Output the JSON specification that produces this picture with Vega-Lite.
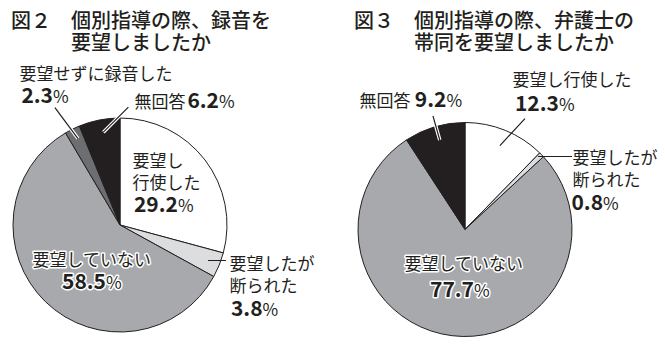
{
  "$schema": "https://vega.github.io/schema/vega-lite/v6.json",
  "background": "#ffffff",
  "padding": {"left": 11, "top": 11, "right": 0, "bottom": 0},
  "bounds": "flush",
  "spacing": 131,
  "datasets": {
    "fig2": [
      {"cat": "要望し行使した", "label": "要望し\n行使した", "value": 29.2, "ord": 1},
      {"cat": "要望したが断られた", "label": "要望したが\n断られた", "value": 3.8, "ord": 2},
      {"cat": "要望していない", "label": "要望していない", "value": 58.5, "ord": 3},
      {"cat": "要望せずに録音した", "label": "要望せずに録音した", "value": 2.3, "ord": 4},
      {"cat": "無回答", "label": "無回答", "value": 6.2, "ord": 5}
    ],
    "fig3": [
      {"cat": "要望し行使した", "label": "要望し行使した", "value": 12.3, "ord": 1},
      {"cat": "要望したが断られた", "label": "要望したが\n断られた", "value": 0.8, "ord": 2},
      {"cat": "要望していない", "label": "要望していない", "value": 77.7, "ord": 3},
      {"cat": "無回答", "label": "無回答", "value": 9.2, "ord": 4}
    ]
  },
  "hconcat": [
    {
      "width": 214,
      "height": 214,
      "data": {"name": "fig2"},
      "transform": [{"stack": "value", "groupby": [], "sort": [{"field": "ord", "order": "ascending"}], "as": ["v0", "v1"]}],
      "title": {"text": ["図２　個別指導の際、録音を", "\u200b　　　要望しましたか"], "anchor": "start", "frame": "group", "font": "Noto Sans CJK JP", "fontSize": 20, "fontWeight": 500, "lineHeight": 22, "color": "#231f20", "offset": 11, "dx": -2},
      "layer": [
        {"mark": {"type": "arc", "radius": 107, "stroke": "#231f20", "strokeWidth": 1},
         "encoding": {"theta": {"field": "v0", "type": "quantitative", "scale": {"domain": [0, 100]}}, "theta2": {"field": "v1"},
           "color": {"field": "cat", "type": "nominal", "legend": null, "scale": {"domain": ["要望し行使した", "要望したが断られた", "要望していない", "要望せずに録音した", "無回答"], "range": ["#ffffff", "#dcddde", "#a7a9ac", "#6d6e71", "#231f20"]}}}},
        {"transform": [{"filter": "datum.cat==='要望せずに録音した'"}],
         "mark": {"type": "arc", "filled": false, "stroke": "#ffffff", "strokeWidth": 3.5, "radius": 133.1, "radius2": 94.5, "padAngle": 3.14, "thetaOffset": -0.177, "theta2Offset": -0.177, "xOffset": 14.3, "yOffset": -10.6},
         "encoding": {"theta": {"field": "v0", "type": "quantitative", "scale": {"domain": [0, 100]}}, "theta2": {"field": "v1"}}},
        {"transform": [{"filter": "datum.cat==='要望せずに録音した'"}],
         "mark": {"type": "arc", "filled": false, "stroke": "#231f20", "strokeWidth": 1.2, "radius": 133.1, "radius2": 94.5, "padAngle": 3.14, "thetaOffset": -0.177, "theta2Offset": -0.177, "xOffset": 14.3, "yOffset": -10.6},
         "encoding": {"theta": {"field": "v0", "type": "quantitative", "scale": {"domain": [0, 100]}}, "theta2": {"field": "v1"}}},
        {"transform": [{"filter": "datum.cat==='無回答'"}],
         "mark": {"type": "arc", "filled": false, "stroke": "#ffffff", "strokeWidth": 3.5, "radius": 89.2, "radius2": 53.8, "padAngle": 3.14, "thetaOffset": 0.9802, "theta2Offset": 0.9802, "xOffset": -54.7, "yOffset": -54.8},
         "encoding": {"theta": {"field": "v0", "type": "quantitative", "scale": {"domain": [0, 100]}}, "theta2": {"field": "v1"}}},
        {"transform": [{"filter": "datum.cat==='無回答'"}],
         "mark": {"type": "arc", "filled": false, "stroke": "#231f20", "strokeWidth": 1.2, "radius": 89.2, "radius2": 53.8, "padAngle": 3.14, "thetaOffset": 0.9802, "theta2Offset": 0.9802, "xOffset": -54.7, "yOffset": -54.8},
         "encoding": {"theta": {"field": "v0", "type": "quantitative", "scale": {"domain": [0, 100]}}, "theta2": {"field": "v1"}}},
        {"transform": [{"filter": "datum.cat==='要望したが断られた'"}],
         "mark": {"type": "arc", "filled": false, "stroke": "#231f20", "strokeWidth": 1.2, "radius": 106, "radius2": 88, "padAngle": 3.14, "thetaOffset": -0.3833, "theta2Offset": -0.3833, "xOffset": 0, "yOffset": 35.5},
         "encoding": {"theta": {"field": "v0", "type": "quantitative", "scale": {"domain": [0, 100]}}, "theta2": {"field": "v1"}}},

        {"mark": {"type": "text", "radius": 55, "dx": -31.2, "dy": -24.1},
         "encoding": {"theta": {"field": "value", "type": "quantitative", "stack": true, "scale": {"domain": [0, 100]}}, "order": {"field": "ord", "type": "quantitative"},
           "text": {"condition": {"test": "datum.cat==='要望し行使した'", "field": "label", "type": "nominal"}, "value": ""}}},
        {"mark": {"type": "text", "radius": 55, "dx": 14.3, "dy": 20.9, "fontSize": 21, "fontWeight": "bold", "align": "right"},
         "encoding": {"theta": {"field": "value", "type": "quantitative", "stack": true, "scale": {"domain": [0, 100]}}, "order": {"field": "ord", "type": "quantitative"},
           "text": {"condition": {"test": "datum.cat==='要望し行使した'", "field": "value", "type": "quantitative", "format": ".1f"}, "value": ""}}},
        {"mark": {"type": "text", "radius": 55, "dx": 14.3, "dy": 20.9},
         "encoding": {"theta": {"field": "value", "type": "quantitative", "stack": true, "scale": {"domain": [0, 100]}}, "order": {"field": "ord", "type": "quantitative"},
           "text": {"condition": {"test": "datum.cat==='要望し行使した'", "value": "%"}, "value": ""}}},

        {"mark": {"type": "text", "radius": 125, "dx": -6.4, "dy": -2.2},
         "encoding": {"theta": {"field": "value", "type": "quantitative", "stack": true, "scale": {"domain": [0, 100]}}, "order": {"field": "ord", "type": "quantitative"},
           "text": {"condition": {"test": "datum.cat==='要望したが断られた'", "field": "label", "type": "nominal"}, "value": ""}}},
        {"mark": {"type": "text", "radius": 125, "dx": 26.6, "dy": 43.8, "fontSize": 21, "fontWeight": "bold", "align": "right"},
         "encoding": {"theta": {"field": "value", "type": "quantitative", "stack": true, "scale": {"domain": [0, 100]}}, "order": {"field": "ord", "type": "quantitative"},
           "text": {"condition": {"test": "datum.cat==='要望したが断られた'", "field": "value", "type": "quantitative", "format": ".1f"}, "value": ""}}},
        {"mark": {"type": "text", "radius": 125, "dx": 26.6, "dy": 43.8},
         "encoding": {"theta": {"field": "value", "type": "quantitative", "stack": true, "scale": {"domain": [0, 100]}}, "order": {"field": "ord", "type": "quantitative"},
           "text": {"condition": {"test": "datum.cat==='要望したが断られた'", "value": "%"}, "value": ""}}},

        {"mark": {"type": "text", "radius": 70, "dx": -38.8, "dy": -8.8, "stroke": "#ffffff", "strokeWidth": 3, "strokeJoin": "round"},
         "encoding": {"theta": {"field": "value", "type": "quantitative", "stack": true, "scale": {"domain": [0, 100]}}, "order": {"field": "ord", "type": "quantitative"},
           "text": {"condition": {"test": "datum.cat==='要望していない'", "field": "label", "type": "nominal"}, "value": ""}}},
        {"mark": {"type": "text", "radius": 70, "dx": 34.7, "dy": 14.2, "fontSize": 21, "fontWeight": "bold", "align": "right", "stroke": "#ffffff", "strokeWidth": 3, "strokeJoin": "round"},
         "encoding": {"theta": {"field": "value", "type": "quantitative", "stack": true, "scale": {"domain": [0, 100]}}, "order": {"field": "ord", "type": "quantitative"},
           "text": {"condition": {"test": "datum.cat==='要望していない'", "field": "value", "type": "quantitative", "format": ".1f"}, "value": ""}}},
        {"mark": {"type": "text", "radius": 70, "dx": 34.7, "dy": 14.2, "stroke": "#ffffff", "strokeWidth": 3, "strokeJoin": "round"},
         "encoding": {"theta": {"field": "value", "type": "quantitative", "stack": true, "scale": {"domain": [0, 100]}}, "order": {"field": "ord", "type": "quantitative"},
           "text": {"condition": {"test": "datum.cat==='要望していない'", "value": "%"}, "value": ""}}},
        {"mark": {"type": "text", "radius": 70, "dx": -38.8, "dy": -8.8},
         "encoding": {"theta": {"field": "value", "type": "quantitative", "stack": true, "scale": {"domain": [0, 100]}}, "order": {"field": "ord", "type": "quantitative"},
           "text": {"condition": {"test": "datum.cat==='要望していない'", "field": "label", "type": "nominal"}, "value": ""}}},
        {"mark": {"type": "text", "radius": 70, "dx": 34.7, "dy": 14.2, "fontSize": 21, "fontWeight": "bold", "align": "right"},
         "encoding": {"theta": {"field": "value", "type": "quantitative", "stack": true, "scale": {"domain": [0, 100]}}, "order": {"field": "ord", "type": "quantitative"},
           "text": {"condition": {"test": "datum.cat==='要望していない'", "field": "value", "type": "quantitative", "format": ".1f"}, "value": ""}}},
        {"mark": {"type": "text", "radius": 70, "dx": 34.7, "dy": 14.2},
         "encoding": {"theta": {"field": "value", "type": "quantitative", "stack": true, "scale": {"domain": [0, 100]}}, "order": {"field": "ord", "type": "quantitative"},
           "text": {"condition": {"test": "datum.cat==='要望していない'", "value": "%"}, "value": ""}}},

        {"mark": {"type": "text", "radius": 20, "dx": -91.6, "dy": -126.6},
         "encoding": {"theta": {"field": "value", "type": "quantitative", "stack": true, "scale": {"domain": [0, 100]}}, "order": {"field": "ord", "type": "quantitative"},
           "text": {"condition": {"test": "datum.cat==='要望せずに録音した'", "field": "label", "type": "nominal"}, "value": ""}}},
        {"mark": {"type": "text", "radius": 20, "dx": -58.1, "dy": -103.6, "fontSize": 21, "fontWeight": "bold", "align": "right"},
         "encoding": {"theta": {"field": "value", "type": "quantitative", "stack": true, "scale": {"domain": [0, 100]}}, "order": {"field": "ord", "type": "quantitative"},
           "text": {"condition": {"test": "datum.cat==='要望せずに録音した'", "field": "value", "type": "quantitative", "format": ".1f"}, "value": ""}}},
        {"mark": {"type": "text", "radius": 20, "dx": -58.1, "dy": -103.6},
         "encoding": {"theta": {"field": "value", "type": "quantitative", "stack": true, "scale": {"domain": [0, 100]}}, "order": {"field": "ord", "type": "quantitative"},
           "text": {"condition": {"test": "datum.cat==='要望せずに録音した'", "value": "%"}, "value": ""}}},

        {"mark": {"type": "text", "radius": 125, "dx": 38.7, "dy": 5.6},
         "encoding": {"theta": {"field": "value", "type": "quantitative", "stack": true, "scale": {"domain": [0, 100]}}, "order": {"field": "ord", "type": "quantitative"},
           "text": {"condition": {"test": "datum.cat==='無回答'", "field": "label", "type": "nominal"}, "value": ""}}},
        {"mark": {"type": "text", "radius": 125, "dx": 123.2, "dy": 6.1, "fontSize": 21, "fontWeight": "bold", "align": "right"},
         "encoding": {"theta": {"field": "value", "type": "quantitative", "stack": true, "scale": {"domain": [0, 100]}}, "order": {"field": "ord", "type": "quantitative"},
           "text": {"condition": {"test": "datum.cat==='無回答'", "field": "value", "type": "quantitative", "format": ".1f"}, "value": ""}}},
        {"mark": {"type": "text", "radius": 125, "dx": 123.2, "dy": 6.1},
         "encoding": {"theta": {"field": "value", "type": "quantitative", "stack": true, "scale": {"domain": [0, 100]}}, "order": {"field": "ord", "type": "quantitative"},
           "text": {"condition": {"test": "datum.cat==='無回答'", "value": "%"}, "value": ""}}}
      ]
    },
    {
      "width": 214,
      "height": 223,
      "data": {"name": "fig3"},
      "transform": [{"stack": "value", "groupby": [], "sort": [{"field": "ord", "order": "ascending"}], "as": ["v0", "v1"]}],
      "title": {"text": ["図３　個別指導の際、弁護士の", "\u200b　　　帯同を要望しましたか"], "anchor": "start", "frame": "group", "font": "Noto Sans CJK JP", "fontSize": 20, "fontWeight": 500, "lineHeight": 22, "color": "#231f20", "offset": 14, "dx": -4},
      "layer": [
        {"mark": {"type": "arc", "radius": 107, "stroke": "#231f20", "strokeWidth": 1},
         "encoding": {"theta": {"field": "v0", "type": "quantitative", "scale": {"domain": [0, 100]}}, "theta2": {"field": "v1"},
           "color": {"field": "cat", "type": "nominal", "legend": null, "scale": {"domain": ["要望し行使した", "要望したが断られた", "要望していない", "要望せずに録音した", "無回答"], "range": ["#ffffff", "#dcddde", "#a7a9ac", "#6d6e71", "#231f20"]}}}},
        {"transform": [{"filter": "datum.cat==='無回答'"}],
         "mark": {"type": "arc", "filled": false, "stroke": "#ffffff", "strokeWidth": 3.5, "radius": 118, "radius2": 93, "padAngle": 3.14, "thetaOffset": 0.014, "theta2Offset": 0.014},
         "encoding": {"theta": {"field": "v0", "type": "quantitative", "scale": {"domain": [0, 100]}}, "theta2": {"field": "v1"}}},
        {"transform": [{"filter": "datum.cat==='無回答'"}],
         "mark": {"type": "arc", "filled": false, "stroke": "#231f20", "strokeWidth": 1.2, "radius": 118, "radius2": 93, "padAngle": 3.14, "thetaOffset": 0.014, "theta2Offset": 0.014},
         "encoding": {"theta": {"field": "v0", "type": "quantitative", "scale": {"domain": [0, 100]}}, "theta2": {"field": "v1"}}},
        {"transform": [{"filter": "datum.cat==='要望し行使した'"}],
         "mark": {"type": "arc", "filled": false, "stroke": "#231f20", "strokeWidth": 1.2, "radius": 122.2, "radius2": 85.4, "padAngle": 3.14, "thetaOffset": 0.3606, "theta2Offset": 0.3606, "xOffset": -23.1, "yOffset": -21.3},
         "encoding": {"theta": {"field": "v0", "type": "quantitative", "scale": {"domain": [0, 100]}}, "theta2": {"field": "v1"}}},
        {"transform": [{"filter": "datum.cat==='要望したが断られた'"}],
         "mark": {"type": "arc", "filled": false, "stroke": "#231f20", "strokeWidth": 1.2, "radius": 107, "radius2": 73, "padAngle": 3.14, "thetaOffset": 0.7728, "theta2Offset": 0.7728, "xOffset": 0, "yOffset": -73},
         "encoding": {"theta": {"field": "v0", "type": "quantitative", "scale": {"domain": [0, 100]}}, "theta2": {"field": "v1"}}},

        {"mark": {"type": "text", "radius": 140, "dx": -5.3, "dy": -13.4},
         "encoding": {"theta": {"field": "value", "type": "quantitative", "stack": true, "scale": {"domain": [0, 100]}}, "order": {"field": "ord", "type": "quantitative"},
           "text": {"condition": {"test": "datum.cat==='要望し行使した'", "field": "label", "type": "nominal"}, "value": ""}}},
        {"mark": {"type": "text", "radius": 140, "dx": 41.2, "dy": 11.6, "fontSize": 21, "fontWeight": "bold", "align": "right"},
         "encoding": {"theta": {"field": "value", "type": "quantitative", "stack": true, "scale": {"domain": [0, 100]}}, "order": {"field": "ord", "type": "quantitative"},
           "text": {"condition": {"test": "datum.cat==='要望し行使した'", "field": "value", "type": "quantitative", "format": ".1f"}, "value": ""}}},
        {"mark": {"type": "text", "radius": 140, "dx": 41.2, "dy": 11.6},
         "encoding": {"theta": {"field": "value", "type": "quantitative", "stack": true, "scale": {"domain": [0, 100]}}, "order": {"field": "ord", "type": "quantitative"},
           "text": {"condition": {"test": "datum.cat==='要望し行使した'", "value": "%"}, "value": ""}}},

        {"mark": {"type": "text", "radius": 140, "dx": 7.3, "dy": 32.7},
         "encoding": {"theta": {"field": "value", "type": "quantitative", "stack": true, "scale": {"domain": [0, 100]}}, "order": {"field": "ord", "type": "quantitative"},
           "text": {"condition": {"test": "datum.cat==='要望したが断られた'", "field": "label", "type": "nominal"}, "value": ""}}},
        {"mark": {"type": "text", "radius": 140, "dx": 37.8, "dy": 78.7, "fontSize": 21, "fontWeight": "bold", "align": "right"},
         "encoding": {"theta": {"field": "value", "type": "quantitative", "stack": true, "scale": {"domain": [0, 100]}}, "order": {"field": "ord", "type": "quantitative"},
           "text": {"condition": {"test": "datum.cat==='要望したが断られた'", "field": "value", "type": "quantitative", "format": ".1f"}, "value": ""}}},
        {"mark": {"type": "text", "radius": 140, "dx": 37.8, "dy": 78.7},
         "encoding": {"theta": {"field": "value", "type": "quantitative", "stack": true, "scale": {"domain": [0, 100]}}, "order": {"field": "ord", "type": "quantitative"},
           "text": {"condition": {"test": "datum.cat==='要望したが断られた'", "value": "%"}, "value": ""}}},

        {"mark": {"type": "text", "radius": 50, "dx": -54.4, "dy": -9.6, "stroke": "#ffffff", "strokeWidth": 3, "strokeJoin": "round"},
         "encoding": {"theta": {"field": "value", "type": "quantitative", "stack": true, "scale": {"domain": [0, 100]}}, "order": {"field": "ord", "type": "quantitative"},
           "text": {"condition": {"test": "datum.cat==='要望していない'", "field": "label", "type": "nominal"}, "value": ""}}},
        {"mark": {"type": "text", "radius": 50, "dx": 15.1, "dy": 17.4, "fontSize": 21, "fontWeight": "bold", "align": "right", "stroke": "#ffffff", "strokeWidth": 3, "strokeJoin": "round"},
         "encoding": {"theta": {"field": "value", "type": "quantitative", "stack": true, "scale": {"domain": [0, 100]}}, "order": {"field": "ord", "type": "quantitative"},
           "text": {"condition": {"test": "datum.cat==='要望していない'", "field": "value", "type": "quantitative", "format": ".1f"}, "value": ""}}},
        {"mark": {"type": "text", "radius": 50, "dx": 15.1, "dy": 17.4, "stroke": "#ffffff", "strokeWidth": 3, "strokeJoin": "round"},
         "encoding": {"theta": {"field": "value", "type": "quantitative", "stack": true, "scale": {"domain": [0, 100]}}, "order": {"field": "ord", "type": "quantitative"},
           "text": {"condition": {"test": "datum.cat==='要望していない'", "value": "%"}, "value": ""}}},
        {"mark": {"type": "text", "radius": 50, "dx": -54.4, "dy": -9.6},
         "encoding": {"theta": {"field": "value", "type": "quantitative", "stack": true, "scale": {"domain": [0, 100]}}, "order": {"field": "ord", "type": "quantitative"},
           "text": {"condition": {"test": "datum.cat==='要望していない'", "field": "label", "type": "nominal"}, "value": ""}}},
        {"mark": {"type": "text", "radius": 50, "dx": 15.1, "dy": 17.4, "fontSize": 21, "fontWeight": "bold", "align": "right"},
         "encoding": {"theta": {"field": "value", "type": "quantitative", "stack": true, "scale": {"domain": [0, 100]}}, "order": {"field": "ord", "type": "quantitative"},
           "text": {"condition": {"test": "datum.cat==='要望していない'", "field": "value", "type": "quantitative", "format": ".1f"}, "value": ""}}},
        {"mark": {"type": "text", "radius": 50, "dx": 15.1, "dy": 17.4},
         "encoding": {"theta": {"field": "value", "type": "quantitative", "stack": true, "scale": {"domain": [0, 100]}}, "order": {"field": "ord", "type": "quantitative"},
           "text": {"condition": {"test": "datum.cat==='要望していない'", "value": "%"}, "value": ""}}},

        {"mark": {"type": "text", "radius": 125, "dx": -69.9, "dy": -2.2},
         "encoding": {"theta": {"field": "value", "type": "quantitative", "stack": true, "scale": {"domain": [0, 100]}}, "order": {"field": "ord", "type": "quantitative"},
           "text": {"condition": {"test": "datum.cat==='無回答'", "field": "label", "type": "nominal"}, "value": ""}}},
        {"mark": {"type": "text", "radius": 125, "dx": 17.1, "dy": -2.2, "fontSize": 21, "fontWeight": "bold", "align": "right"},
         "encoding": {"theta": {"field": "value", "type": "quantitative", "stack": true, "scale": {"domain": [0, 100]}}, "order": {"field": "ord", "type": "quantitative"},
           "text": {"condition": {"test": "datum.cat==='無回答'", "field": "value", "type": "quantitative", "format": ".1f"}, "value": ""}}},
        {"mark": {"type": "text", "radius": 125, "dx": 17.1, "dy": -2.2},
         "encoding": {"theta": {"field": "value", "type": "quantitative", "stack": true, "scale": {"domain": [0, 100]}}, "order": {"field": "ord", "type": "quantitative"},
           "text": {"condition": {"test": "datum.cat==='無回答'", "value": "%"}, "value": ""}}}
      ]
    }
  ],
  "config": {
    "view": {"stroke": null},
    "text": {"font": "Noto Sans CJK JP", "fontSize": 17, "fill": "#231f20", "align": "left", "baseline": "alphabetic", "lineHeight": 22, "lineBreak": "\n"}
  }
}
